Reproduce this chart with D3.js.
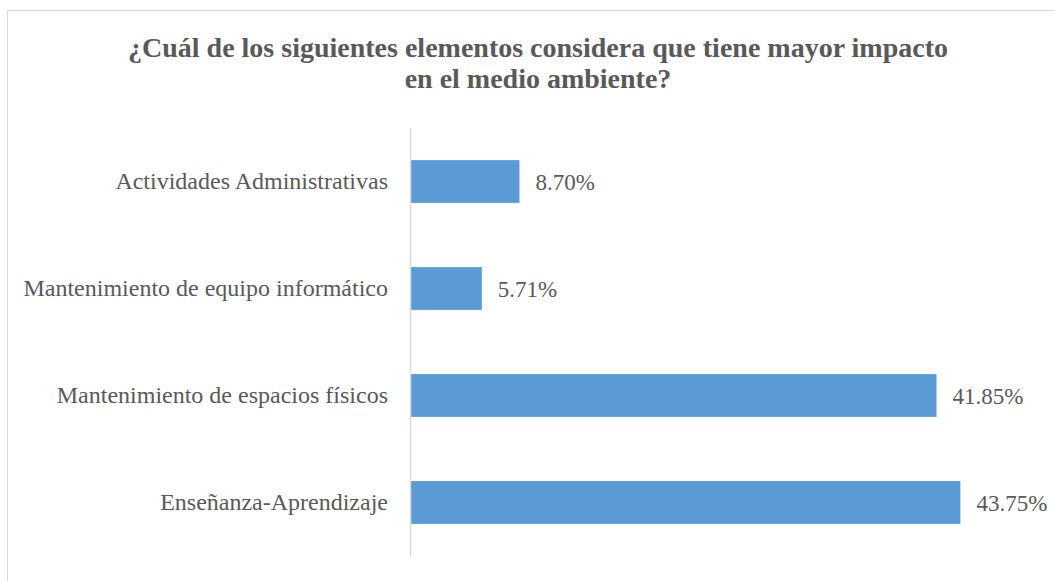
<!DOCTYPE html>
<html>
<head>
<meta charset="utf-8">
<script src="https://cdn.jsdelivr.net/npm/d3@7"></script>
</head>
<body style="margin:0;padding:0;background:#ffffff;">
<svg id="chart" width="1055" height="581" style="display:block;font-family:'Liberation Serif';"></svg>
<script>
const titleLines = ["¿Cuál de los siguientes elementos considera que tiene mayor impacto", "en el medio ambiente?"];
const categories = ["Actividades Administrativas", "Mantenimiento de equipo informático", "Mantenimiento de espacios físicos", "Enseñanza-Aprendizaje"];
const values = [8.70, 5.71, 41.85, 43.75];
const valueLabels = ["8.70%", "5.71%", "41.85%", "43.75%"];

const svg = d3.select("#chart");
const textColor = "#595959";
const font = "Liberation Serif";

// outer chart border
svg.append("rect")
  .attr("x", 7.5).attr("y", 10.5)
  .attr("width", 1100).attr("height", 700)
  .attr("fill", "#ffffff")
  .attr("stroke", "#d9d9d9").attr("stroke-width", 1);

// title
const title = svg.append("text")
  .attr("text-anchor", "middle")
  .style("font-family", font)
  .style("font-weight", "bold")
  .style("font-size", "28px")
  .attr("fill", textColor);
titleLines.forEach((t, i) => {
  title.append("tspan").attr("x", 538).attr("y", 57 + i * 31).text(t);
});

const x = d3.scaleLinear().domain([0, 50]).range([410, 1039]);
const y = d3.scaleBand().domain(categories).range([128, 556]).paddingInner(0.6).paddingOuter(0.3);

// bars
svg.append("g").selectAll("rect")
  .data(categories)
  .join("rect")
  .attr("x", x(0))
  .attr("y", d => y(d))
  .attr("width", (d, i) => x(values[i]) - x(0))
  .attr("height", y.bandwidth())
  .attr("fill", "#5b9bd5");

// value labels
svg.append("g").selectAll("text")
  .data(categories)
  .join("text")
  .attr("x", (d, i) => x(values[i]) + 16)
  .attr("y", d => y(d) + y.bandwidth() / 2)
  .attr("dy", "0.35em")
  .style("font-family", font)
  .style("font-size", "23px")
  .attr("fill", textColor)
  .text((d, i) => valueLabels[i]);

// category axis
const axis = d3.axisLeft(y).tickSize(0).tickPadding(22);
const gAxis = svg.append("g").attr("transform", `translate(${x(0)},0)`).call(axis);
gAxis.attr("font-family", null);
gAxis.select(".domain").attr("stroke", "#d9d9d9").attr("stroke-width", 1.5);
gAxis.selectAll("text")
  .style("font-family", font)
  .style("font-size", "24px")
  .attr("fill", textColor);
</script>
</body>
</html>
